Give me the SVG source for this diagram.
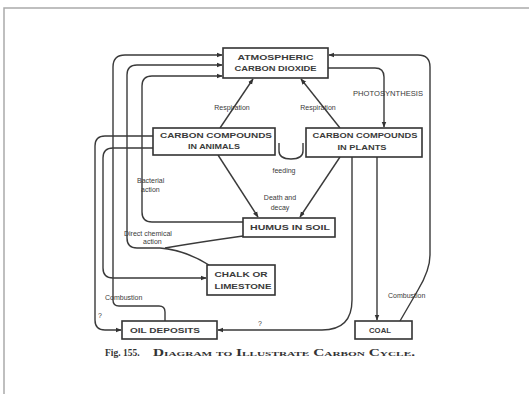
<svg xmlns="http://www.w3.org/2000/svg" width="529" height="394" viewBox="0 0 529 394">
<style>
.box{fill:#fff;stroke:#333;stroke-width:1.6}
.bt{font-family:"Liberation Sans",Arial,sans-serif;font-size:6.5px;font-weight:bold;fill:#3a3a3a;text-anchor:middle}
.lb{font-family:"Liberation Sans",Arial,sans-serif;font-size:7px;fill:#3a3a3a}
.c{fill:none;stroke:#3a3a3a;stroke-width:1.4}
.cap{font-family:"Liberation Serif","Times New Roman",serif;font-weight:bold;fill:#333}
</style>
<defs>
<marker id="ar" viewBox="0 0 10 10" refX="9" refY="5" markerWidth="6" markerHeight="6" markerUnits="userSpaceOnUse" orient="auto">
<path d="M0,1 L10,5 L0,9 Z" fill="#333"/>
</marker>
</defs>
<rect width="529" height="394" fill="#fff"/>
<path d="M4,394 L4,8 L529,8" fill="none" stroke="#aaa" stroke-width="1.5"/>
<g id="connectors">
<path class="c" d="M165,321 L165,312 Q165,306 159,306 L119,306 Q113,306 113,300 L113,67 Q113,55 125,55 L222,55" marker-end="url(#ar)"/>
<path class="c" d="M243,236 Q200,242 165,248"/>
<path class="c" d="M209,265 Q185,250 160,248 L137,248 Q127,248 127,238 L127,75 Q127,65 137,65 L222,65" marker-end="url(#ar)"/>
<path class="c" d="M243,222 L152,222 Q142,222 142,212 L142,86 Q142,76 152,76 L222,76" marker-end="url(#ar)"/>
<path class="c" d="M153,136 L105,136 Q95,136 95,146 L95,320 Q95,330 105,330 L121,330" marker-end="url(#ar)"/>
<path class="c" d="M153,148 L113,148 Q103,148 103,158 L103,268 Q103,278 113,278 L206,278" marker-end="url(#ar)"/>
<path class="c" d="M328,68 L375,68 Q384,68 384,77 L384,127" marker-end="url(#ar)"/>
<path class="c" d="M400,321 L418,290 Q430,270 430,255 L430,67 Q430,55 418,55 L329,55" marker-end="url(#ar)"/>
<path class="c" d="M377,157 L377,320" marker-end="url(#ar)"/>
<path class="c" d="M352,157 L352,300 Q352,330 322,330 L218,330" marker-end="url(#ar)"/>
<path class="c" d="M220,128 L253,79" marker-end="url(#ar)"/>
<path class="c" d="M340,128 L301,79" marker-end="url(#ar)"/>
<path class="c" d="M218,155 L258,217" marker-end="url(#ar)"/>
<path class="c" d="M340,157 L300,217" marker-end="url(#ar)"/>
<path class="c" d="M303,143 L303,151 Q303,159 291,159 Q279,159 279,151 L279,143"/>
</g>
<g id="co2"><rect class="box" x="223" y="48" width="105" height="30"/>
<text class="bt" x="275.5" y="60" textLength="76" lengthAdjust="spacingAndGlyphs">ATMOSPHERIC</text>
<text class="bt" x="275.5" y="71" textLength="82" lengthAdjust="spacingAndGlyphs">CARBON DIOXIDE</text></g>
<g id="animals"><rect class="box" x="153" y="128" width="122" height="27"/>
<text class="bt" x="216" y="138" textLength="112" lengthAdjust="spacingAndGlyphs">CARBON COMPOUNDS</text>
<text class="bt" x="214" y="149" textLength="52" lengthAdjust="spacingAndGlyphs">IN ANIMALS</text></g>
<g id="plants"><rect class="box" x="306" y="128" width="116" height="29"/>
<text class="bt" x="365" y="138" textLength="105" lengthAdjust="spacingAndGlyphs">CARBON COMPOUNDS</text>
<text class="bt" x="362" y="150" textLength="49" lengthAdjust="spacingAndGlyphs">IN PLANTS</text></g>
<g id="humus"><rect class="box" x="243" y="218" width="92" height="19"/>
<text class="bt" x="290" y="230" textLength="80" lengthAdjust="spacingAndGlyphs">HUMUS IN SOIL</text></g>
<g id="chalk"><rect class="box" x="207" y="265" width="68" height="30"/>
<text class="bt" x="241" y="277" textLength="53" lengthAdjust="spacingAndGlyphs">CHALK OR</text>
<text class="bt" x="243" y="289" textLength="57" lengthAdjust="spacingAndGlyphs">LIMESTONE</text></g>
<g id="oil"><rect class="box" x="122" y="321" width="95" height="18"/>
<text class="bt" x="165" y="333" textLength="70" lengthAdjust="spacingAndGlyphs">OIL DEPOSITS</text></g>
<g id="coal"><rect class="box" x="355" y="321" width="57" height="18"/>
<text class="bt" x="380" y="333" textLength="22" lengthAdjust="spacingAndGlyphs">COAL</text></g>
<g id="labels">
<text class="lb" x="232" y="110" text-anchor="middle">Respiration</text>
<text class="lb" x="318" y="110" text-anchor="middle">Respiration</text>
<text class="lb" x="388" y="96" text-anchor="middle" font-size="5.5" textLength="70" lengthAdjust="spacingAndGlyphs">PHOTOSYNTHESIS</text>
<text class="lb" x="284" y="173" text-anchor="middle">feeding</text>
<text class="lb" x="280" y="200" text-anchor="middle">Death and</text>
<text class="lb" x="280" y="210" text-anchor="middle">decay</text>
<text class="lb" x="137" y="183">Bacterial</text>
<text class="lb" x="141" y="192">action</text>
<text class="lb" x="124" y="236">Direct chemical</text>
<text class="lb" x="143" y="244">action</text>
<text class="lb" x="105" y="300">Combustion</text>
<text class="lb" x="388" y="298">Combustion</text>
<text class="lb" x="98" y="318">?</text>
<text class="lb" x="258" y="326">?</text>
</g>
<g id="caption">
<text class="cap" x="105" y="356" font-size="9.5">Fig. 155.</text>
<text class="cap" x="153" y="356" font-size="9.5" font-variant="small-caps" textLength="262" lengthAdjust="spacingAndGlyphs">Diagram to Illustrate Carbon Cycle.</text>
</g>
</svg>
